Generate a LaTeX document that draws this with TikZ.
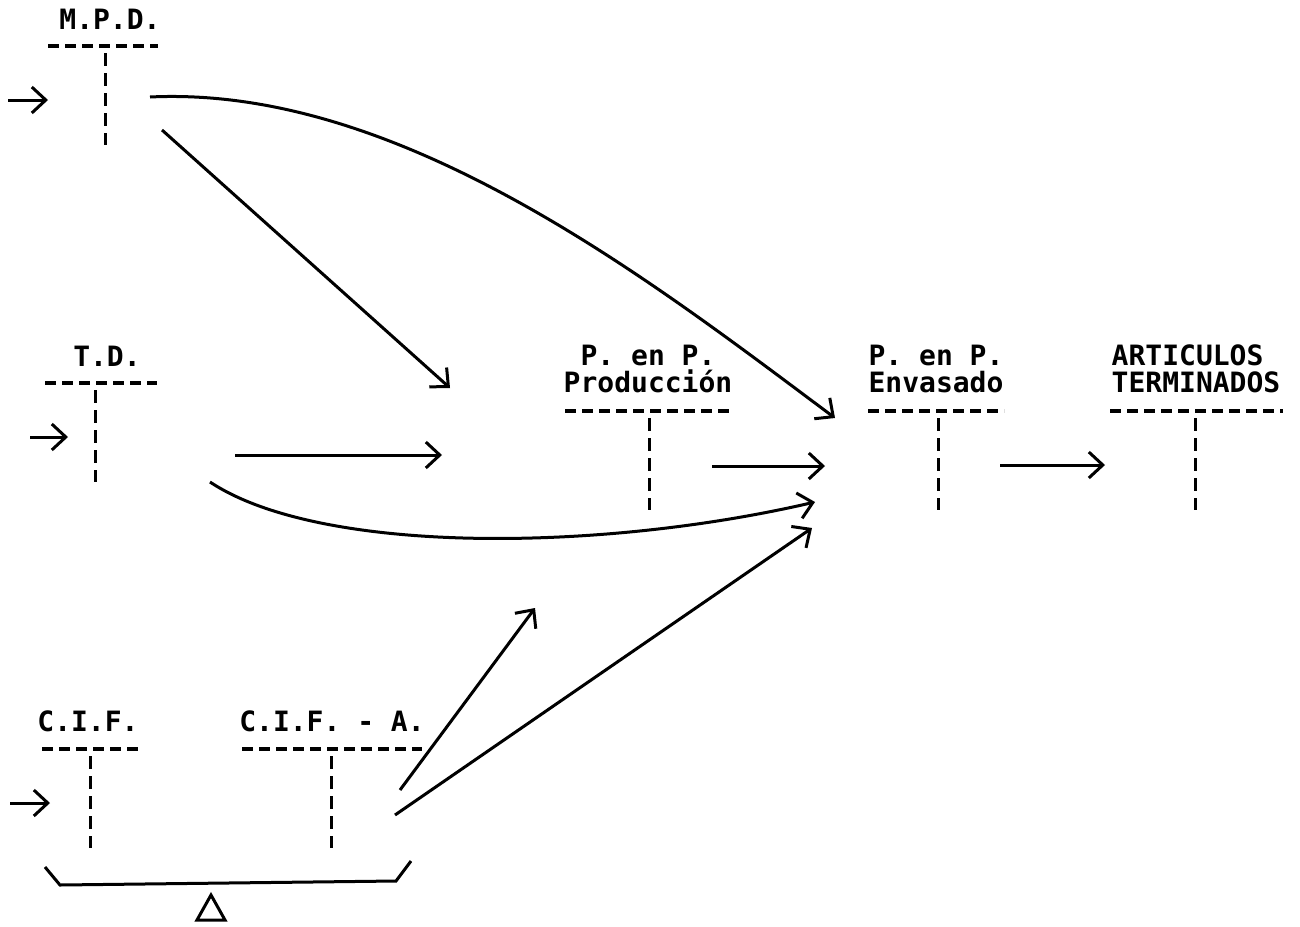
\documentclass[tikz,border=0pt]{standalone}
\usepackage{fontspec}
\setmonofont{DejaVu Sans Mono}
\usetikzlibrary{arrows.meta,positioning,calc}
\tikzstyle{acct label}=[font=\ttfamily\bfseries\fontsize{14}{13.5}\selectfont, inner sep=0pt, anchor=base]
\tikzstyle{acct rule}=[line width=1.6pt, dash pattern=on 5.5pt off 3pt]
\tikzstyle{acct stem}=[line width=1.5pt, dash pattern=on 6.5pt off 3.5pt]
\tikzstyle{flow}=[-{Straight Barb[length=7pt,width=13pt,line width=1.5pt]}, line width=1.5pt]

\begin{document}
\begin{tikzpicture}[x=0.5pt, y=-0.5pt]
\useasboundingbox (0,0) rectangle (1300,926);

	% Account titles
    \node[acct label] (MPD) at (110,29) {M.P.D.};
    \node[acct label] (TD) at (107,366) {T.D.};
    \node[acct label] (CIF) at (88,731) {C.I.F.};
    \node[acct label] (CIFA) at (332,731) {C.I.F. - A.};
    \node[acct label, align=center] (PROD) at (648,392) {P. en P.\\Producción};
    \node[acct label, align=center] (ENV) at (936,392) {P. en P.\\Envasado};
    \node[acct label, align=left] (ART) at (1196,392) {ARTICULOS\\TERMINADOS};

	% T accounts
    \foreach \name / \l / \r / \x / \y / \b in {mpd/48/158/105/46/145, td/45/157/95/383/482, cif/42/138/90/749/848, cifa/242/422/331/749/848, prod/565/731/649/411/510, env/868/1004/938/411/510, art/1110/1283/1195/411/510}
    {
        \coordinate (\name-l) at (\l,\y);
        \coordinate (\name-r) at (\r,\y);
        \coordinate (\name-t) at (\x,\y+7);
        \coordinate (\name-b) at (\x,\b);
        \draw[acct rule] (\name-l) -- (\name-r);
        \draw[acct stem] (\name-t) -- (\name-b);
    }

	% Arrow ends
    \coordinate (mpd-in) at (8,100);
    \coordinate (mpd-at) at (48,100);
    \coordinate (td-in) at (30,437);
    \coordinate (td-at) at (68,437);
    \coordinate (cif-in) at (10,803);
    \coordinate (cif-at) at (50,803);
    \coordinate (mpd-o1) at (150,97);
    \coordinate (mpd-o2) at (162,130);
    \coordinate (td-o1) at (235,455);
    \coordinate (td-o2) at (210,482);
    \coordinate (cifa-o1) at (400,790);
    \coordinate (cifa-o2) at (395,815);
    \coordinate (prod-i1) at (450,388);
    \coordinate (prod-i2) at (442,455);
    \coordinate (prod-i3) at (535,608);
    \coordinate (prod-o) at (712,466);
    \coordinate (env-i1) at (835,418);
    \coordinate (env-i2) at (825,466);
    \coordinate (env-i3) at (815,502);
    \coordinate (env-i4) at (812,528);
    \coordinate (env-o) at (1000,465);
    \coordinate (art-i) at (1105,465);

	% Inputs
    \foreach \name in {mpd,td,cif}
        \draw[flow] (\name-in) -- (\name-at);

	% Flows
    \draw[flow] (mpd-o1) .. controls (400,85) and (650,280) .. (env-i1);
    \draw[flow] (mpd-o2) -- (prod-i1);
    \draw[flow] (td-o1) -- (prod-i2);
    \draw[flow] (td-o2) .. controls (320,555) and (600,552) .. (env-i3);
    \draw[flow] (cifa-o1) -- (prod-i3);
    \draw[flow] (cifa-o2) -- (env-i4);
    \draw[flow] (prod-o) -- (env-i2);
    \draw[flow] (env-o) -- (art-i);

	% Difference
    \draw[line width=1.5pt] (45,867) -- (60,885) -- (396,881) -- (411,861);
    \draw[line width=1.5pt] (197,920) -- (211,895) -- (225,920) -- cycle;

\end{tikzpicture}
\end{document}
